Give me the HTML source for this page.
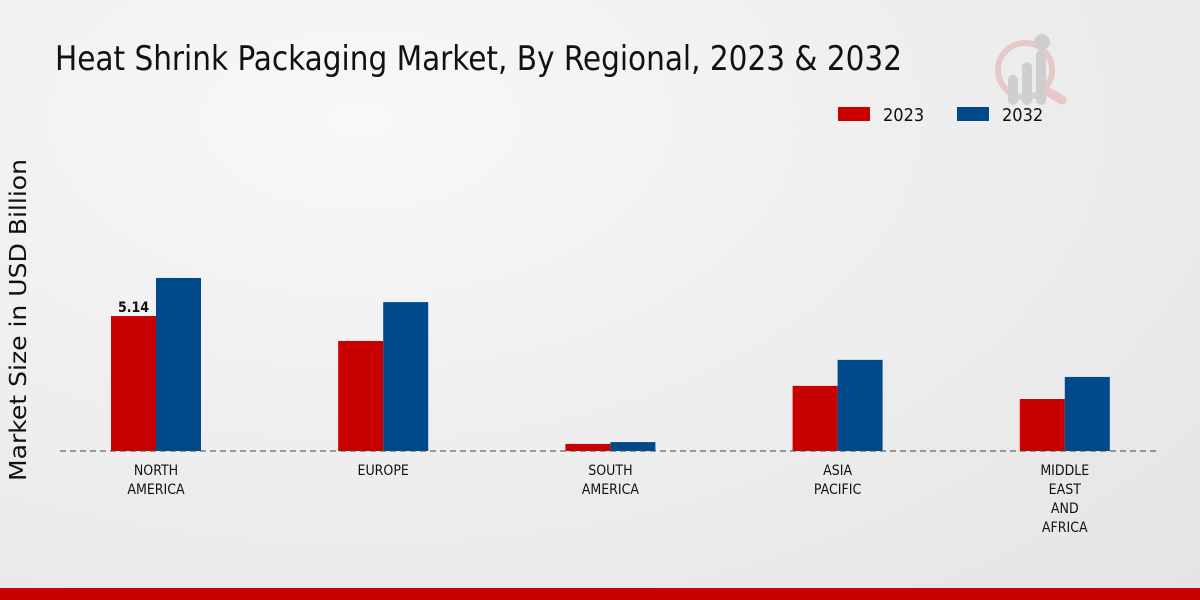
<!DOCTYPE html>
<html><head><meta charset="utf-8"><style>
html,body{margin:0;padding:0;width:1200px;height:600px;overflow:hidden}
body{background:radial-gradient(ellipse at 30% 20%,#f8f8f8 0%,#ececec 60%,#e4e4e4 100%);font-family:"Liberation Sans","DejaVu Sans",sans-serif}
</style></head><body>
<svg id="chart" width="1200" height="600" xmlns="http://www.w3.org/2000/svg" style="position:absolute;left:0;top:0">
<text x="55" y="70" font-size="34" textLength="847" lengthAdjust="spacingAndGlyphs" fill="#111" font-family="DejaVu Sans Condensed, DejaVu Sans, sans-serif">Heat Shrink Packaging Market, By Regional, 2023 &amp; 2032</text>
<g opacity="0.35">
<circle cx="1025" cy="70" r="27" fill="none" stroke="#d88" stroke-width="6"/>
<line x1="1045" y1="90" x2="1062" y2="100" stroke="#d88" stroke-width="9" stroke-linecap="round"/>
<rect x="1008" y="75" width="10" height="30" rx="5" fill="#999"/>
<rect x="1022" y="62" width="10" height="43" rx="5" fill="#999"/>
<rect x="1036" y="50" width="10" height="55" rx="5" fill="#999"/>
<circle cx="1042" cy="42" r="8" fill="#999"/>
</g>
<text transform="translate(26,320) rotate(-90)" text-anchor="middle" font-size="23" textLength="322" lengthAdjust="spacingAndGlyphs" fill="#111" font-family="DejaVu Sans, sans-serif">Market Size in USD Billion</text>
<g>
<rect x="838" y="107" width="32" height="14" fill="#c80000"/>
<text x="883" y="121" font-size="18" fill="#111" font-family="DejaVu Sans Condensed, DejaVu Sans, sans-serif">2023</text>
<rect x="957" y="107" width="32" height="14" fill="#004a8c"/>
<text x="1002" y="121" font-size="18" fill="#111" font-family="DejaVu Sans Condensed, DejaVu Sans, sans-serif">2032</text>
</g>
<g id="bars"></g>
<line x1="60" y1="451" x2="1160" y2="451" stroke="#444" stroke-width="1" stroke-dasharray="6,4"/>
<g id="labels"></g>
<rect x="0" y="588" width="1200" height="12" fill="#c80000"/>
</svg>
<script>
const categories = [["NORTH","AMERICA"],["EUROPE"],["SOUTH","AMERICA"],["ASIA","PACIFIC"],["MIDDLE","EAST","AND","AFRICA"]];
const values2023 = [5.14, 4.19, 0.27, 2.48, 1.98];
const values2032 = [6.59, 5.67, 0.34, 3.47, 2.82];
const shownLabels = ["5.14", null, null, null, null];
const NS = "http://www.w3.org/2000/svg";
const base = 451, pxPer = 26.26, x0 = 156, step = 227.2, bw = 45;
const yScale = v => base - v * pxPer;
const xCenter = i => x0 + i * step;
const bars = document.getElementById('bars'), labels = document.getElementById('labels');
function mk(tag, attrs){const e=document.createElementNS(NS,tag);for(const k in attrs)e.setAttribute(k,attrs[k]);return e;}
categories.forEach((cat,i)=>{
  const c = xCenter(i);
  const r = mk('rect',{x:c-bw,y:yScale(values2023[i]),width:bw,height:base-yScale(values2023[i]),fill:'#c80000'});
  
  
  bars.appendChild(r);
  const b = mk('rect',{x:c,y:yScale(values2032[i]),width:bw,height:base-yScale(values2032[i]),fill:'#004a8c'});
  
  
  bars.appendChild(b);
  if(shownLabels[i]){
    const t = mk('text',{x:c-bw/2,y:yScale(values2023[i])-4,'text-anchor':'middle','font-size':'14','font-weight':'bold',fill:'#111','font-family':'DejaVu Sans Condensed, DejaVu Sans, sans-serif'});
    
    
    t.textContent = shownLabels[i];
    bars.appendChild(t);
  }
  cat.forEach((line,j)=>{
    const t = mk('text',{x:c,y:475+j*19,'text-anchor':'middle','font-size':'14',fill:'#111','font-family':'DejaVu Sans Condensed, DejaVu Sans, sans-serif'});
    
    
    t.textContent = line;
    labels.appendChild(t);
  });
});
</script>
</body></html>
